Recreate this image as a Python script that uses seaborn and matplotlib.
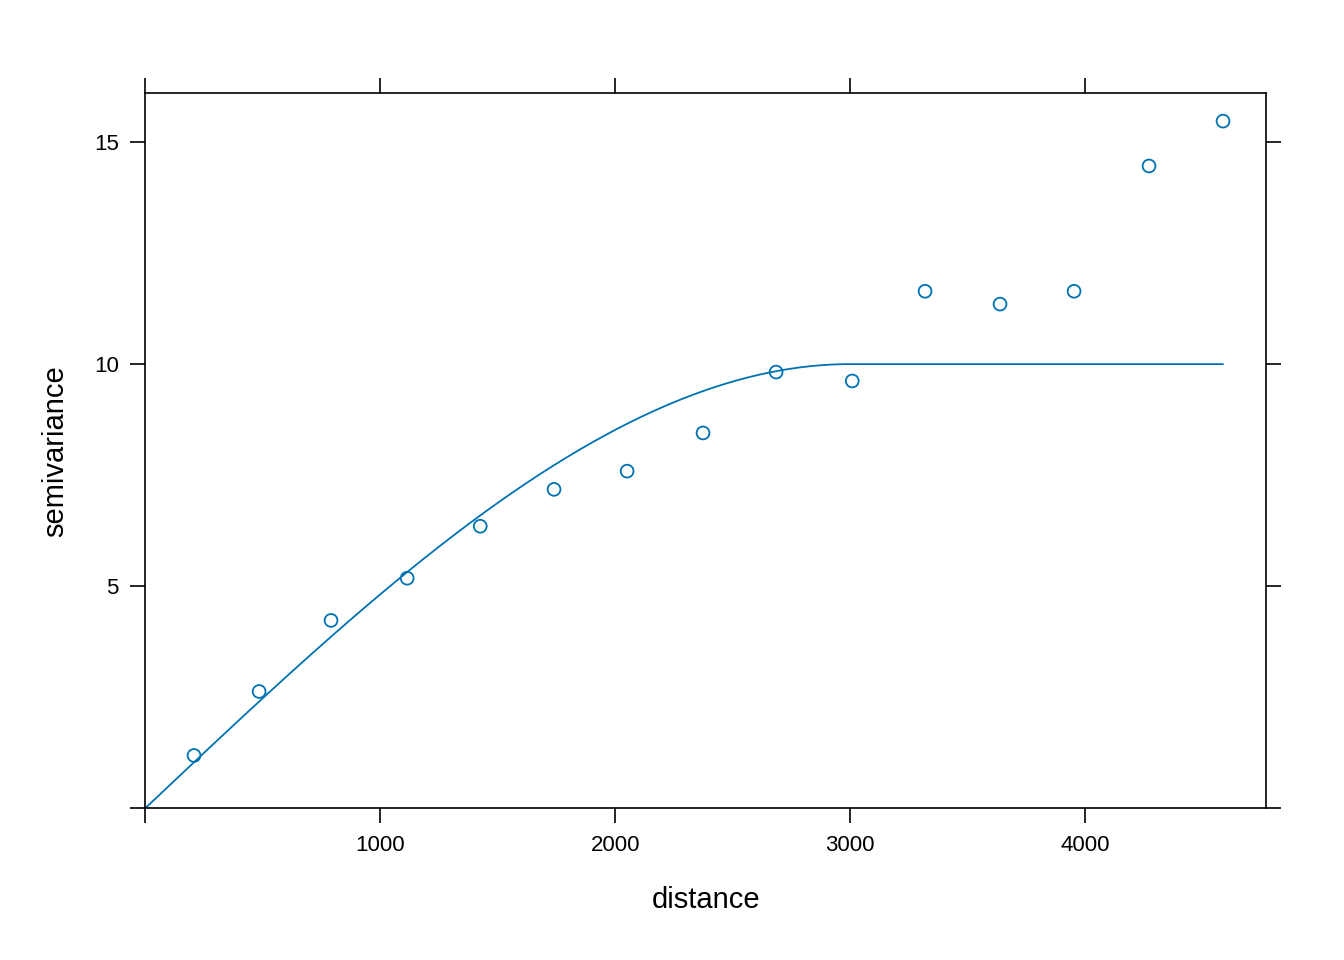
import numpy as np
import pandas as pd
import matplotlib
matplotlib.use("Agg")
import matplotlib.pyplot as plt
import seaborn as sns

# empirical variogram
distance = [208, 485, 791, 1115, 1426, 1740, 2051, 2374, 2685, 3009, 3319, 3638, 3953, 4272, 4587]
gamma = [1.19, 2.63, 4.23, 5.18, 6.35, 7.18, 7.59, 8.45, 9.82, 9.62, 11.64, 11.35, 11.64, 14.46, 15.47]

# fitted spherical model
sill = 10.0
model_range = 3000.0

sns.set_theme(style="white")
plt.rcParams['font.family'] = ['Liberation Sans', 'DejaVu Sans']
plt.rcParams['text.color'] = "black"
plt.rcParams['axes.labelcolor'] = "black"
col = "#0072B2"

h = np.linspace(0, max(distance), 400)
r = np.minimum(h / model_range, 1)
model = pd.DataFrame({"h": h, "g": sill * (1.5 * r - 0.5 * r**3)})
pts = pd.DataFrame({"distance": distance, "semivariance": gamma})

fig = plt.figure(figsize=(13.44, 9.6), dpi=100)
ax = fig.add_axes([0.108, 0.158, 0.834, 0.745])
sns.lineplot(data=model, x="h", y="g", color=col, lw=1.3, ax=ax)
sns.scatterplot(data=pts, x="distance", y="semivariance", ax=ax, s=85,
                facecolor="none", edgecolor=col, linewidth=1.3)
ax.set_xlim(0, 4770)
ax.set_ylim(0, 16.1)
ax.set_xticks([0, 1000, 2000, 3000, 4000])
ax.set_xticklabels(["", "1000", "2000", "3000", "4000"])
ax.set_yticks([0, 5, 10, 15])
ax.set_yticklabels(["", "5", "10", "15"])
ax.tick_params(axis="both", which="both", direction="out", length=11, width=1.2,
               top=True, right=True, bottom=True, left=True,
               labeltop=False, labelright=False, labelsize=16, pad=8,
               color="black", labelcolor="black")
for s in ax.spines.values():
    s.set_color("black")
    s.set_linewidth(1.2)
ax.set_xlabel("distance", fontsize=21, labelpad=22)
ax.set_ylabel("semivariance", fontsize=21, labelpad=18)
fig.savefig("out.png", dpi=100)
